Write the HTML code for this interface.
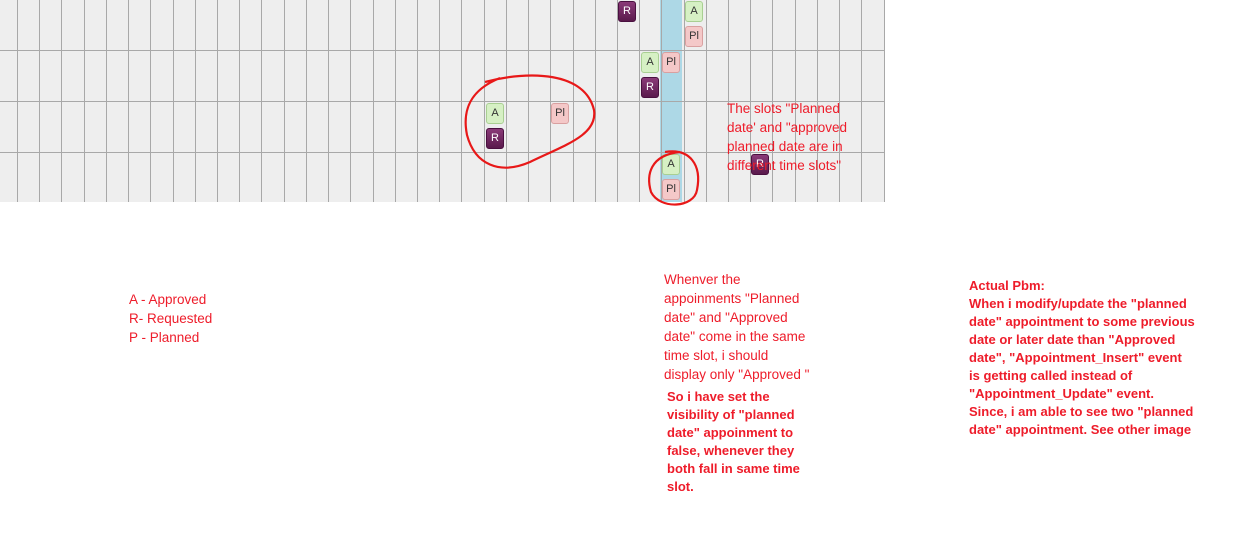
<!DOCTYPE html><html><head><style>
body{margin:0;width:1241px;height:535px;background:#fff;position:relative;overflow:hidden;font-family:"Liberation Sans",sans-serif}
.g{position:absolute;left:0;top:0;width:885px;height:202px;background:#eeeeee}
.v{position:absolute;top:0;width:1px;height:202px;background:#a8a8a8}
.h{position:absolute;left:0;width:885px;height:1px;background:#a8a8a8}
.c{position:absolute;width:18px;height:21px;border-radius:3px;font-size:11px;text-align:center;line-height:18px;box-sizing:border-box;overflow:hidden}
.A{background:#d6f0c4;border:1px solid #a9cf92;color:#333}
.P{background:#f4c8c8;border:1px solid #d9a0a0;color:#333}
.R{background:linear-gradient(#8a3a78,#5a1a4c);color:#fff;border:1px solid #4a1040}
.t{position:absolute;color:#ee1c2a;font-size:13.5px;white-space:nowrap}
.b{font-weight:bold;font-size:13px}
</style></head><body>
<div class="g"></div>
<div style="position:absolute;left:660px;top:0;width:22px;height:202px;background:#add8e6"></div>
<div id="grid"></div>
<script>
var s='';for(var k=0;k<40;k++){var x=Math.round(17+22.22*k);if(x<885)s+='<div class="v" style="left:'+x+'px"></div>';}
[50,101,152].forEach(function(y){s+='<div class="h" style="top:'+y+'px"></div>'});
s+='<div class="v" style="left:884px"></div>';
document.getElementById('grid').innerHTML=s;
</script>
<div class="c R" style="left:618px;top:1px">R</div>
<div class="c A" style="left:685px;top:1px">A</div>
<div class="c P" style="left:685px;top:26px">Pl</div>
<div class="c A" style="left:641px;top:52px">A</div>
<div class="c P" style="left:662px;top:52px">Pl</div>
<div class="c R" style="left:641px;top:77px">R</div>
<div class="c A" style="left:486px;top:103px">A</div>
<div class="c R" style="left:486px;top:128px">R</div>
<div class="c P" style="left:551px;top:103px">Pl</div>
<div class="c A" style="left:662px;top:154px">A</div>
<div class="c P" style="left:662px;top:179px">Pl</div>
<div class="c R" style="left:751px;top:154px">R</div>
<svg style="position:absolute;left:0;top:0" width="1241" height="535">
<path d="M485,82 C530,70 585,72 594,110 C598,135 565,145 530,162 C500,175 475,165 467,135 C462,110 470,90 500,78" fill="none" stroke="#e81818" stroke-width="2.2"/>
<path d="M665,152 C690,148 702,165 697,190 C694,208 660,210 651,192 C646,175 650,155 680,152" fill="none" stroke="#e81818" stroke-width="2.2"/>
</svg>
<div class="t" style="left:727px;top:99px;line-height:19px">The slots "Planned<br>date' and "approved<br>planned date are in<br>different time slots"</div>
<div class="t" style="left:129px;top:290px;line-height:19px">A - Approved<br>R- Requested<br>P - Planned</div>
<div class="t" style="left:664px;top:270px;line-height:19px">Whenver the<br>appoinments "Planned<br>date" and "Approved<br>date" come in the same<br>time slot, i should<br>display only "Approved "</div>
<div class="t b" style="left:667px;top:388px;line-height:18px">So i have set the<br>visibility of "planned<br>date" appoinment to<br>false, whenever they<br>both fall in same time<br>slot.</div>
<div class="t b" style="left:969px;top:277px;line-height:18px">Actual Pbm:<br>When i modify/update the "planned<br>date" appointment to some previous<br>date or later date than "Approved<br>date", "Appointment_Insert" event<br>is getting called instead of<br>"Appointment_Update" event.<br>Since, i am able to see two "planned<br>date" appointment. See other image</div>
</body></html>
